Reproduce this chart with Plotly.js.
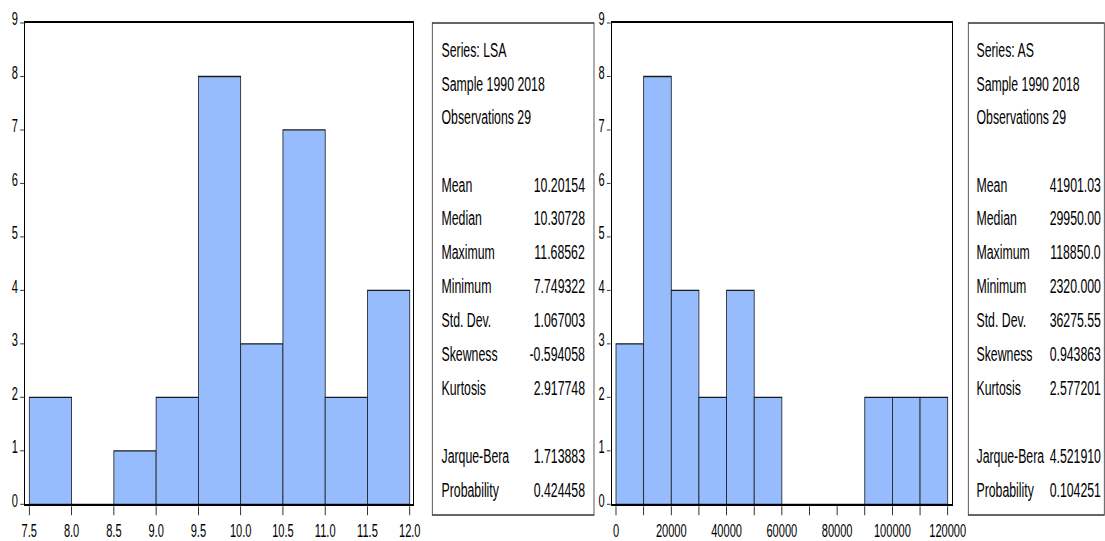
<!DOCTYPE html>
<html>
<head>
<meta charset="utf-8">
<script src="https://cdn.plot.ly/plotly-3.0.1.min.js"></script>
<style>
html,body{margin:0;padding:0;background:#fff;overflow:hidden;}
#chart{width:1797px;height:541px;transform:scaleX(0.61491);transform-origin:0 0;}
</style>
</head>
<body>
<div id="chart"></div>
<script>
// ---- data ----
const lsaBinStart = [7.5, 8.0, 8.5, 9.0, 9.5, 10.0, 10.5, 11.0, 11.5];
const lsaCounts   = [2, 0, 1, 2, 8, 3, 7, 2, 4];
const lsaBinWidth = 0.5;
const lsaTickVals = [7.5, 8.0, 8.5, 9.0, 9.5, 10.0, 10.5, 11.0, 11.5, 12.0];
const lsaTickText = ['7.5','8.0','8.5','9.0','9.5','10.0','10.5','11.0','11.5','12.0'];

const asBinStart = [0, 10000, 20000, 30000, 40000, 50000, 60000, 70000, 80000, 90000, 100000, 110000];
const asCounts   = [3, 8, 4, 2, 4, 2, 0, 0, 0, 2, 2, 2];
const asBinWidth = 10000;
const asTickVals = [0, 10000, 20000, 30000, 40000, 50000, 60000, 70000, 80000, 90000, 100000, 110000, 120000];
const asTickText = ['0','','20000','','40000','','60000','','80000','','100000','','120000'];

const yTickVals = [0,1,2,3,4,5,6,7,8,9];

const headerLSA = ['Series: LSA', 'Sample 1990 2018', 'Observations 29'];
const headerAS  = ['Series: AS', 'Sample 1990 2018', 'Observations 29'];
const statLabels = ['Mean','Median','Maximum','Minimum','Std. Dev.','Skewness','Kurtosis'];
const lsaStats   = ['10.20154','10.30728','11.68562','7.749322','1.067003','-0.594058','2.917748'];
const asStats    = ['41901.03','29950.00','118850.0','2320.000','36275.55','0.943863','2.577201'];
const testLabels = ['Jarque-Bera','Probability'];
const lsaTests   = ['1.713883','0.424458'];
const asTests    = ['4.521910','0.104251'];

// ---- layout helpers (real pixel positions -> paper fractions) ----
const W = 1105, H = 541;
const px = x => x / W;
const py = y => (H - y) / H;
const FONT = 'Liberation Sans, Arial, sans-serif';
const barColor = 'rgb(150,188,253)';

const traces = [
  {type:'bar', x: lsaBinStart, y: lsaCounts, width: lsaBinWidth, offset: 0,
   marker:{color: barColor, line:{color:'#1a1a1a', width:1.3}}, xaxis:'x', yaxis:'y', hoverinfo:'skip'},
  {type:'bar', x: asBinStart, y: asCounts, width: asBinWidth, offset: 0,
   marker:{color: barColor, line:{color:'#1a1a1a', width:1.3}}, xaxis:'x2', yaxis:'y2', hoverinfo:'skip'}
];

function xaxisDef(domain, range, vals, text){
  return {domain: domain, range: range, tickmode:'array', tickvals: vals, ticktext: text,
    ticks:'outside', ticklen: 9, tickwidth: 1.3, tickcolor:'#000',
    showline:true, linecolor:'#000', linewidth:2, mirror:true,
    showgrid:false, zeroline:false, fixedrange:true,
    tickfont:{family: FONT, size:18, color:'#000'}};
}
function yaxisDef(anchor){
  return {domain:[py(504.3), py(23)], range:[0,9], tickmode:'array', tickvals: yTickVals,
    ticks:'outside', ticklen: 6, tickwidth: 1, tickcolor:'#000', anchor: anchor,
    ticklabelshift: -4,
    showline:true, linecolor:'#000', linewidth:1.8, mirror:true,
    showgrid:false, zeroline:false, fixedrange:true,
    tickfont:{family: FONT, size:18, color:'#000'}};
}

const annotations = [];
const lineY = [50, 84, 117, 185, 218, 252, 286, 320, 354, 388, 456, 490];
function addStats(header, values, tests, labelX, valueX){
  const labels = header.concat(statLabels, testLabels);
  const vals = ['', '', ''].concat(values, tests);
  labels.forEach((t, i) => {
    annotations.push({xref:'paper', yref:'paper', x: px(labelX), y: py(lineY[i]),
      xanchor:'left', yanchor:'middle', text: t, showarrow:false,
      font:{family: FONT, size:20, color:'#000'}});
    if (vals[i] !== '') {
      annotations.push({xref:'paper', yref:'paper', x: px(valueX), y: py(lineY[i]),
        xanchor:'right', yanchor:'middle', text: vals[i], showarrow:false,
        font:{family: FONT, size:20, color:'#000'}});
    }
  });
}
addStats(headerLSA, lsaStats, lsaTests, 440, 586);
addStats(headerAS, asStats, asTests, 975, 1102);

const shapes = [
  {type:'rect', xref:'paper', yref:'paper', x0: px(432.3), x1: px(594), y0: py(515), y1: py(23),
   line:{color:'#333', width:1.3}},
  {type:'rect', xref:'paper', yref:'paper', x0: px(968.3), x1: px(1104.3), y0: py(515), y1: py(23),
   line:{color:'#333', width:1.3}}
];

const layout = {
  width: 1797, height: 541,
  margin:{l:0, r:0, t:0, b:0, pad:0},
  paper_bgcolor:'#fff', plot_bgcolor:'#fff',
  showlegend:false, bargap:0,
  xaxis: xaxisDef([px(25), px(412.7)], [7.449, 12.035], lsaTickVals, lsaTickText),
  yaxis: yaxisDef('x'),
  xaxis2: Object.assign(xaxisDef([px(611.7), px(951.7)], [-1556, 121447], asTickVals, asTickText), {anchor:'y2'}),
  yaxis2: yaxisDef('x2'),
  annotations: annotations,
  shapes: shapes
};
layout.xaxis.anchor = 'y';

Plotly.newPlot('chart', traces, layout, {staticPlot:true, displayModeBar:false});
</script>
</body>
</html>
